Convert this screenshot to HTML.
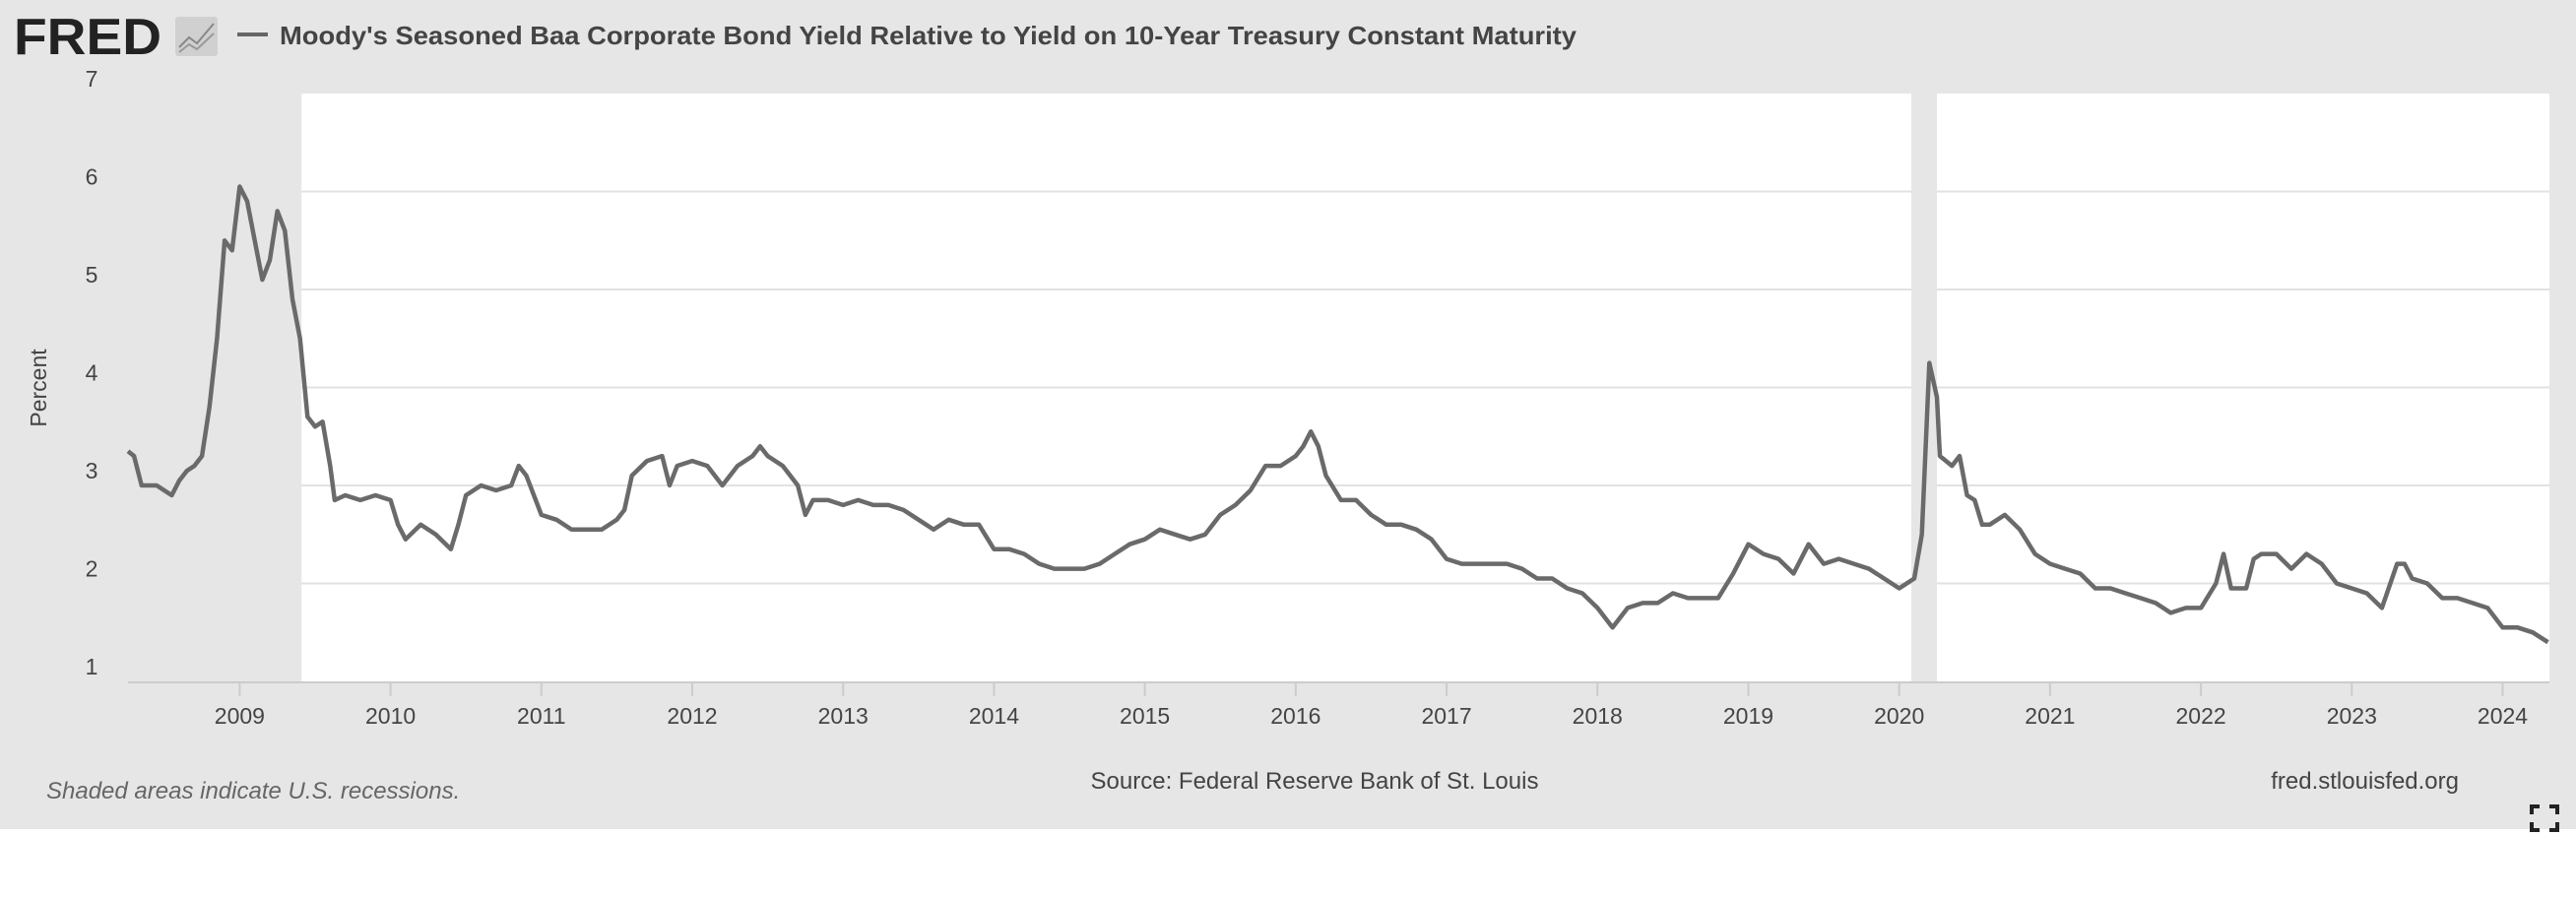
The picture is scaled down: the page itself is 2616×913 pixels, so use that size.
<!DOCTYPE html>
<html><head><meta charset="utf-8">
<style>
html,body{margin:0;padding:0;background:#fff;}
body{width:2616px;height:908px;overflow:hidden;font-family:"Liberation Sans",sans-serif;}
</style></head>
<body>
<svg id="chart" width="2616" height="908" viewBox="0 0 2616 908" xmlns="http://www.w3.org/2000/svg">
<rect x="0" y="0" width="2616" height="842" fill="#e6e6e6"/>
<g>
<text x="14" y="55" font-size="52" font-weight="bold" fill="#222" font-family="Liberation Sans, sans-serif" textLength="150" lengthAdjust="spacingAndGlyphs">FRED</text>
<rect x="178" y="17" width="43" height="40" rx="3" fill="#d0d0d0"/>
<polyline points="182,48 192,38 200,44 217,24" fill="none" stroke="#888" stroke-width="2"/>
<polyline points="182,53 192,45 200,50 217,34" fill="none" stroke="#999" stroke-width="2"/>
</g>
<line x1="241" y1="35" x2="272" y2="35" stroke="#666" stroke-width="4"/>
<text x="284" y="45" font-size="26" font-weight="bold" fill="#444" textLength="1317" lengthAdjust="spacingAndGlyphs">Moody's Seasoned Baa Corporate Bond Yield Relative to Yield on 10-Year Treasury Constant Maturity</text>
<rect x="130" y="95" width="2459" height="597" fill="#fff"/>
<g id="grid"></g>
<g id="rec"></g>
<g id="yt"></g>
<g id="xt"></g>
<line x1="130" y1="693" x2="2589" y2="693" stroke="#ccc" stroke-width="2"/>
<path id="series" fill="none" stroke="#6a6a6a" stroke-width="4.5" stroke-linejoin="round"/>
<text transform="translate(47,394) rotate(-90)" text-anchor="middle" font-size="23" fill="#444">Percent</text>
<text x="47" y="811" font-size="24" font-style="italic" fill="#666">Shaded areas indicate U.S. recessions.</text>
<text x="1335" y="801" text-anchor="middle" font-size="24" fill="#444">Source: Federal Reserve Bank of St. Louis</text>
<text x="2497" y="801" text-anchor="end" font-size="24" fill="#444">fred.stlouisfed.org</text>
<g fill="none" stroke="#222" stroke-width="4">
<polyline points="2571,827 2571,819 2579,819"/><polyline points="2589,819 2597,819 2597,827"/>
<polyline points="2571,835 2571,843 2579,843"/><polyline points="2589,843 2597,843 2597,835"/>
</g>
</svg>
<script>
const yTicks=[1,2,3,4,5,6,7];
const xTicks=[2009,2010,2011,2012,2013,2014,2015,2016,2017,2018,2019,2020,2021,2022,2023,2024];
const recessions=[[2008.26,2009.41],[2020.08,2020.25]];
const dates=[2008.26,2008.3,2008.35,2008.45,2008.55,2008.6,2008.65,2008.7,2008.75,2008.8,2008.85,2008.9,2008.95,2009.0,2009.05,2009.1,2009.15,2009.2,2009.25,2009.3,2009.35,2009.4,2009.45,2009.5,2009.55,2009.6,2009.63,2009.7,2009.8,2009.9,2010.0,2010.05,2010.1,2010.2,2010.3,2010.4,2010.45,2010.5,2010.6,2010.7,2010.8,2010.85,2010.9,2011.0,2011.1,2011.2,2011.3,2011.4,2011.5,2011.55,2011.6,2011.7,2011.8,2011.85,2011.9,2012.0,2012.1,2012.2,2012.3,2012.4,2012.45,2012.5,2012.6,2012.7,2012.75,2012.8,2012.9,2013.0,2013.1,2013.2,2013.3,2013.4,2013.5,2013.6,2013.7,2013.8,2013.9,2014.0,2014.1,2014.2,2014.3,2014.4,2014.5,2014.6,2014.7,2014.8,2014.9,2015.0,2015.1,2015.2,2015.3,2015.4,2015.5,2015.6,2015.7,2015.8,2015.9,2016.0,2016.05,2016.1,2016.15,2016.2,2016.3,2016.4,2016.5,2016.6,2016.7,2016.8,2016.9,2017.0,2017.1,2017.2,2017.3,2017.4,2017.5,2017.6,2017.7,2017.8,2017.9,2018.0,2018.1,2018.2,2018.3,2018.4,2018.5,2018.6,2018.7,2018.8,2018.9,2019.0,2019.1,2019.2,2019.3,2019.4,2019.5,2019.6,2019.7,2019.8,2019.9,2020.0,2020.1,2020.15,2020.2,2020.25,2020.27,2020.35,2020.4,2020.45,2020.5,2020.55,2020.6,2020.7,2020.8,2020.9,2021.0,2021.1,2021.2,2021.3,2021.4,2021.5,2021.6,2021.7,2021.8,2021.9,2022.0,2022.1,2022.15,2022.2,2022.3,2022.35,2022.4,2022.5,2022.6,2022.7,2022.8,2022.9,2023.0,2023.1,2023.2,2023.3,2023.35,2023.4,2023.5,2023.6,2023.7,2023.8,2023.9,2024.0,2024.1,2024.2,2024.3];
const values=[3.35,3.3,3.0,3.0,2.9,3.05,3.15,3.2,3.3,3.8,4.5,5.5,5.4,6.05,5.9,5.5,5.1,5.3,5.8,5.6,4.9,4.5,3.7,3.6,3.65,3.2,2.85,2.9,2.85,2.9,2.85,2.6,2.45,2.6,2.5,2.35,2.6,2.9,3.0,2.95,3.0,3.2,3.1,2.7,2.65,2.55,2.55,2.55,2.65,2.75,3.1,3.25,3.3,3.0,3.2,3.25,3.2,3.0,3.2,3.3,3.4,3.3,3.2,3.0,2.7,2.85,2.85,2.8,2.85,2.8,2.8,2.75,2.65,2.55,2.65,2.6,2.6,2.35,2.35,2.3,2.2,2.15,2.15,2.15,2.2,2.3,2.4,2.45,2.55,2.5,2.45,2.5,2.7,2.8,2.95,3.2,3.2,3.3,3.4,3.55,3.4,3.1,2.85,2.85,2.7,2.6,2.6,2.55,2.45,2.25,2.2,2.2,2.2,2.2,2.15,2.05,2.05,1.95,1.9,1.75,1.55,1.75,1.8,1.8,1.9,1.85,1.85,1.85,2.1,2.4,2.3,2.25,2.1,2.4,2.2,2.25,2.2,2.15,2.05,1.95,2.05,2.5,4.25,3.9,3.3,3.2,3.3,2.9,2.85,2.6,2.6,2.7,2.55,2.3,2.2,2.15,2.1,1.95,1.95,1.9,1.85,1.8,1.7,1.75,1.75,2.0,2.3,1.95,1.95,2.25,2.3,2.3,2.15,2.3,2.2,2.0,1.95,1.9,1.75,2.2,2.2,2.05,2.0,1.85,1.85,1.8,1.75,1.55,1.55,1.5,1.4];

const X0=130,X1=2589,D0=2008.26,D1=2024.31,Y0=692,YS=99.5;
function xs(d){return X0+(d-D0)/(D1-D0)*(X1-X0);}
function ys(v){return Y0-(v-1)*YS;}
const NS='http://www.w3.org/2000/svg';
function mk(tag,attrs,parent){const e=document.createElementNS(NS,tag);for(const k in attrs)e.setAttribute(k,attrs[k]);document.getElementById(parent).appendChild(e);return e;}

recessions.forEach(r=>{
  const e=mk('rect',{x:xs(r[0]),y:95,width:xs(r[1])-xs(r[0]),height:597,fill:'#e6e6e6'},'rec');
  
  
});
yTicks.forEach(v=>{
  if(v>1&&v<7){
    const g=mk('line',{x1:X0,x2:X1,y1:ys(v),y2:ys(v),stroke:'#e2e2e2','stroke-width':2},'grid');
    
    
  }
  const t=mk('text',{x:93,y:ys(v)-7,'text-anchor':'middle','font-size':23,fill:'#444'},'yt');
  t.textContent=v;
  
  
});
xTicks.forEach(yr=>{
  const x=xs(yr);
  const l=mk('line',{x1:x,x2:x,y1:694,y2:707,stroke:'#ccc','stroke-width':2},'xt');
  
  
  const t=mk('text',{x:x,y:735,'text-anchor':'middle','font-size':23,fill:'#444'},'xt');
  t.textContent=yr;
  
  
});
let d='';
dates.forEach((dt,i)=>{d+=(i?'L':'M')+xs(dt).toFixed(1)+','+ys(values[i]).toFixed(1);});
document.getElementById('series').setAttribute('d',d);
</script>
</body></html>
